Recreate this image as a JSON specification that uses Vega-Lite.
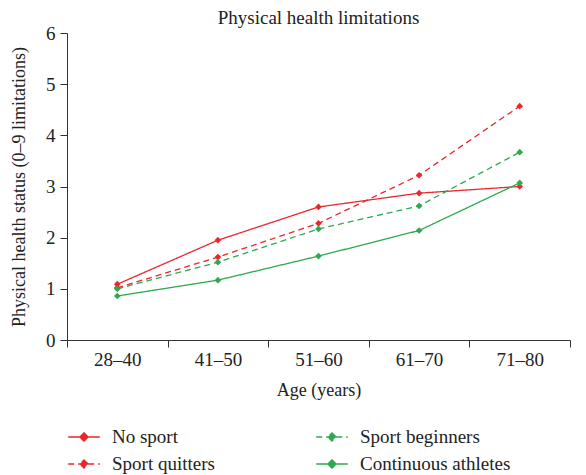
{
  "$schema": "https://vega.github.io/schema/vega-lite/v6.json",
  "autosize": "none",
  "padding": {"left": 67, "top": 33, "right": 16, "bottom": 135},
  "width": 503,
  "height": 307,
  "config": {
    "font": "Liberation Serif",
    "view": {"stroke": null},
    "axis": {"grid": false, "domainColor": "#333", "tickColor": "#333", "labelColor": "#222", "titleColor": "#222", "labelFont": "Liberation Serif", "titleFont": "Liberation Serif", "titleFontWeight": "normal", "labelFontSize": 19, "titleFontSize": 18, "tickSize": 7},
    "title": {"font": "Liberation Serif", "fontSize": 19, "fontWeight": "normal", "color": "#222"}
  },
  "title": {"text": "Physical health limitations", "offset": -4, "anchor": "middle"},
  "data": {
    "values": [
      {"age": "28–40", "group": "No sport", "v": 1.09},
      {"age": "41–50", "group": "No sport", "v": 1.95},
      {"age": "51–60", "group": "No sport", "v": 2.6},
      {"age": "61–70", "group": "No sport", "v": 2.87},
      {"age": "71–80", "group": "No sport", "v": 3.0},
      {"age": "28–40", "group": "Sport quitters", "v": 1.02},
      {"age": "41–50", "group": "Sport quitters", "v": 1.62},
      {"age": "51–60", "group": "Sport quitters", "v": 2.28},
      {"age": "61–70", "group": "Sport quitters", "v": 3.22},
      {"age": "71–80", "group": "Sport quitters", "v": 4.57},
      {"age": "28–40", "group": "Sport beginners", "v": 1.0},
      {"age": "41–50", "group": "Sport beginners", "v": 1.52},
      {"age": "51–60", "group": "Sport beginners", "v": 2.17},
      {"age": "61–70", "group": "Sport beginners", "v": 2.62},
      {"age": "71–80", "group": "Sport beginners", "v": 3.67},
      {"age": "28–40", "group": "Continuous athletes", "v": 0.86},
      {"age": "41–50", "group": "Continuous athletes", "v": 1.17},
      {"age": "51–60", "group": "Continuous athletes", "v": 1.64},
      {"age": "61–70", "group": "Continuous athletes", "v": 2.14},
      {"age": "71–80", "group": "Continuous athletes", "v": 3.07}
    ]
  },
  "encoding": {
    "x": {"field": "age", "type": "nominal", "sort": ["28–40", "41–50", "51–60", "61–70", "71–80"],
      "scale": {"paddingInner": 0, "paddingOuter": 0},
      "axis": {"title": "Age (years)", "labelAngle": 0, "tickBand": "extent", "labelPadding": 3, "titlePadding": 12}},
    "y": {"field": "v", "type": "quantitative", "scale": {"domain": [0, 6]},
      "axis": {"title": "Physical health status (0–9 limitations)", "tickCount": 6, "labelPadding": 5, "titlePadding": 17}},
    "color": {"field": "group", "type": "nominal",
      "scale": {"domain": ["No sport", "Sport quitters", "Sport beginners", "Continuous athletes"], "range": ["#e8282c", "#e8282c", "#2fa84f", "#2fa84f"]},
      "legend": {
        "title": null, "orient": "none", "legendX": 0, "legendY": 387, "columns": 2, "columnPadding": 98, "rowPadding": 0,
        "labelFontSize": 19, "labelFont": "Liberation Serif", "labelColor": "#222", "labelOffset": 11,
        "symbolType": "M-1,0H1M0,-0.26L0.26,0L0,0.26L-0.26,0Z", "symbolSize": 1000, "symbolStrokeWidth": 1.4,
        "encode": {"symbols": {"update": {"fill": {"scale": "color", "field": "value"}}}}
      }},
    "strokeDash": {"field": "group", "type": "nominal",
      "scale": {"domain": ["No sport", "Sport quitters", "Sport beginners", "Continuous athletes"], "range": [[1, 0], [6, 4], [6, 4], [1, 0]]},
      "legend": null}
  },
  "layer": [
    {"mark": {"type": "line", "strokeWidth": 1.3}},
    {"mark": {"type": "point", "shape": "diamond", "filled": true, "size": 45, "opacity": 1}, "encoding": {"strokeDash": {"value": [1, 0]}}}
  ]
}
